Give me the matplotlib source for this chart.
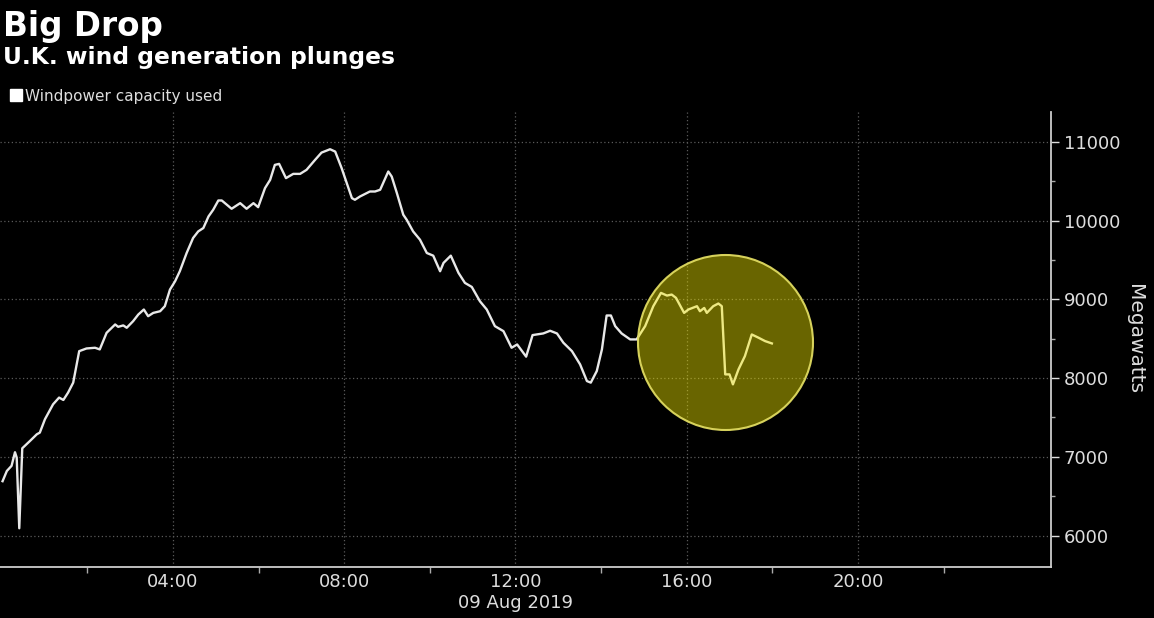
import matplotlib
matplotlib.use("Agg")
import matplotlib.pyplot as plt
from matplotlib.lines import Line2D
from matplotlib.ticker import FixedLocator, MultipleLocator

# ---- data (decimal hours on 09 Aug 2019, megawatts) ----
hours = [0.02, 0.12, 0.23, 0.31, 0.35, 0.41, 0.48, 0.66, 0.82, 0.89, 1.01, 1.20, 1.34, 1.44,
         1.55, 1.67, 1.81, 1.98, 2.18, 2.29, 2.45, 2.65, 2.72, 2.84, 2.92, 3.07, 3.19, 3.32,
         3.42, 3.54, 3.70, 3.81, 3.93, 4.05, 4.16, 4.32, 4.47, 4.59, 4.71, 4.83, 4.94, 5.06,
         5.14, 5.37, 5.57, 5.72, 5.88, 5.99, 6.15, 6.27, 6.38, 6.48, 6.64, 6.81, 6.97, 7.12,
         7.32, 7.47, 7.67, 7.79, 7.94, 8.06, 8.18, 8.25, 8.37, 8.60, 8.72, 8.84, 9.03, 9.11,
         9.23, 9.38, 9.46, 9.61, 9.77, 9.93, 10.08, 10.24, 10.32, 10.49, 10.67, 10.82, 10.98,
         11.17, 11.33, 11.52, 11.72, 11.91, 12.04, 12.25, 12.40, 12.65, 12.81, 12.97, 13.12,
         13.32, 13.51, 13.67, 13.76, 13.90, 14.02, 14.13, 14.23, 14.33, 14.48, 14.68, 14.83,
         15.03, 15.22, 15.40, 15.54, 15.65, 15.75, 15.94, 16.04, 16.24, 16.31, 16.41, 16.47,
         16.62, 16.74, 16.82, 16.90, 17.00, 17.08, 17.21, 17.36, 17.52, 17.68, 17.83, 17.99]
megawatts = [6690, 6820, 6885, 7058, 6990, 6092, 7108, 7201, 7286, 7307, 7477, 7667, 7752, 7722,
             7815, 7942, 8342, 8376, 8385, 8364, 8575, 8681, 8651, 8669, 8639, 8723, 8807, 8871,
             8786, 8828, 8849, 8913, 9124, 9230, 9357, 9589, 9779, 9863, 9906, 10053, 10138, 10256,
             10256, 10151, 10222, 10151, 10222, 10171, 10413, 10518, 10708, 10721, 10540, 10594, 10594, 10645,
             10772, 10864, 10907, 10877, 10667, 10477, 10286, 10265, 10307, 10370, 10370, 10392, 10624, 10560,
             10351, 10075, 10011, 9863, 9758, 9589, 9555, 9357, 9463, 9555, 9336, 9209, 9158,
             8976, 8871, 8660, 8596, 8385, 8427, 8272, 8546, 8567, 8601, 8567, 8449,
             8342, 8174, 7962, 7942, 8089, 8364, 8795, 8795, 8660, 8567, 8491, 8491,
             8660, 8913, 9082, 9048, 9061, 9019, 8828, 8871, 8913, 8849, 8891, 8828,
             8913, 8947, 8913, 8047, 8047, 7920, 8110, 8279, 8554, 8512, 8470, 8440]

x_major = [4, 8, 12, 16, 20]
x_labels = ["04:00", "08:00", "12:00", "16:00", "20:00"]
x_minor = [2, 6, 10, 14, 18, 22]
y_ticks = [6000, 7000, 8000, 9000, 10000, 11000]
highlight_center = (16.885, 8455)

title = "Big Drop"
subtitle = "U.K. wind generation plunges"
series_name = "Windpower capacity used"
date_label = "09 Aug 2019"
y_label = "Megawatts"

W, H = 1154, 618
fig = plt.figure(figsize=(W / 100, H / 100), dpi=100, facecolor="black")
ax = fig.add_axes([0 / W, (H - 567) / H, 1051 / W, (567 - 112) / H], facecolor="black")

ax.plot(hours, megawatts, color="#e8e8e8", lw=1.7, zorder=3, solid_joinstyle="round")

# highlight circle
ax.scatter([highlight_center[0]], [highlight_center[1]], s=126 ** 2, marker="o",
           facecolor=(0.96, 0.92, 0.0, 0.43), edgecolor=(0.88, 0.86, 0.38, 0.95),
           linewidths=1.5, zorder=4)

ax.set_xlim(-0.04, 24.51)
ax.set_ylim(5600, 11380)

ax.xaxis.set_major_locator(FixedLocator(x_major))
ax.set_xticklabels(x_labels)
ax.xaxis.set_minor_locator(FixedLocator(x_minor))
ax.yaxis.set_major_locator(FixedLocator(y_ticks))
ax.yaxis.set_minor_locator(MultipleLocator(500))
ax.yaxis.tick_right()
ax.yaxis.set_label_position("right")

ax.tick_params(axis="x", which="major", length=0, pad=4, labelsize=13, colors="#dddddd")
ax.tick_params(axis="x", which="minor", length=4, width=1, color="#aaaaaa", direction="out")
ax.tick_params(axis="y", which="major", length=6, width=1, pad=3, labelsize=13,
               colors="#dddddd", direction="out")
ax.tick_params(axis="y", which="minor", length=3, width=1, color="#aaaaaa", direction="out")

ax.grid(True, which="major", color="#5a5a5a", linestyle=(0, (1, 2)), lw=0.9)

for s in ("top", "left"):
    ax.spines[s].set_visible(False)
for s in ("bottom", "right"):
    ax.spines[s].set_color("#cccccc")
    ax.spines[s].set_linewidth(1.3)

ax.set_ylabel(y_label, rotation=270, color="#dddddd", fontsize=14.5, labelpad=17)

fig.text(516 / W, 1 - 603 / H, date_label, ha="center", va="center", color="#dddddd", fontsize=13)

fig.text(3 / W, 1 - 36 / H, title, ha="left", va="baseline", color="white",
         fontsize=23.5, fontweight="bold")
fig.text(3 / W, 1 - 64 / H, subtitle, ha="left", va="baseline", color="white",
         fontsize=16.8, fontweight="bold")

handle = Line2D([], [], marker="s", color="white", linestyle="none", markersize=8)
fig.legend(handles=[handle], labels=[series_name], loc="center left",
           bbox_to_anchor=(2 / W, 1 - 96 / H), frameon=False, fontsize=11,
           labelcolor="#dddddd", handletextpad=0.2, handlelength=0.8, borderpad=0)

fig.savefig("out.png", dpi=100, facecolor="black")
